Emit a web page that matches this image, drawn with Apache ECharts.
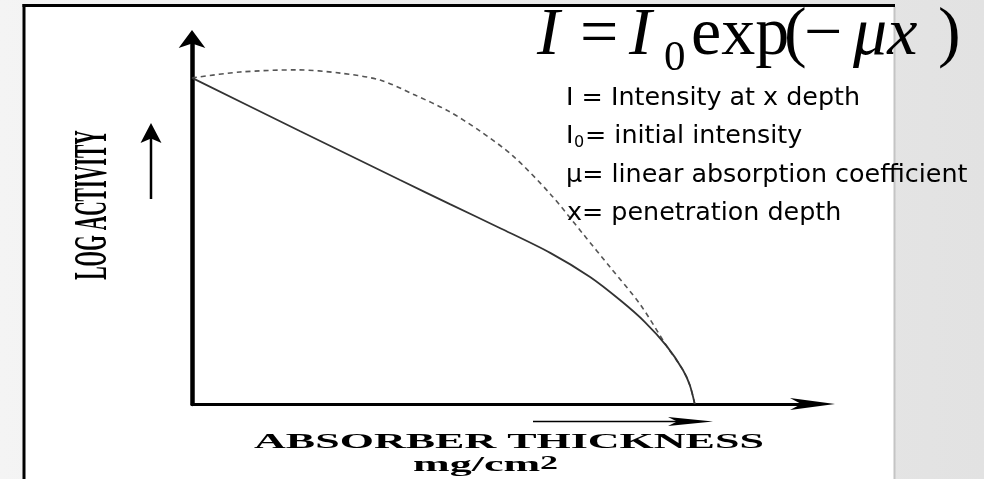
<!DOCTYPE html>
<html><head><meta charset="utf-8">
<script src="https://cdn.jsdelivr.net/npm/echarts@6/dist/echarts.min.js"></script>
<style>html,body{margin:0;padding:0;background:#eeeeee;} #c{width:984px;height:479px;}</style>
</head><body><div id="c"></div>
<script>
// Absorber thickness (arbitrary units, axis 0-100) and log activity (arbitrary units, axis 0-100)
const solidThickness = [0, 17.3, 33.4, 41.4, 49.4, 57.5, 63.9, 68.7, 72.7, 76.2, 78.8, 79.9, 80.7];
const solidActivity  = [89.1, 74.6, 61.2, 54.6, 48.1, 41.3, 34.7, 28.4, 22.4, 15.8, 9.3, 5.2, 0];
const dashedThickness = [0, 7.7, 16.9, 23.8, 30.2, 35.8, 41.1, 46.2, 51.5, 57.5, 62.8, 67.1, 71.9, 76.2, 78.8, 79.9, 80.7];
const dashedActivity  = [89.1, 90.7, 91.3, 90.4, 88.5, 84.4, 80.1, 74.6, 67.8, 57.4, 46.4, 37.4, 27.3, 15.8, 9.3, 5.2, 0];

const xAxisTitle = 'ABSORBER THICKNESS';
const xAxisUnit = 'mg/cm';
const xAxisUnitPower = '2';
const yAxisTitle = 'LOG ACTIVITY';
const legendLine1 = 'I = Intensity at x depth';
const legendLine2Sym = 'I';
const legendLine2Sub = '0';
const legendLine2Rest = '= initial intensity';
const legendLine3 = 'μ= linear absorption coefficient';
const legendLine4 = 'x= penetration depth';

const pairs = (xs, ys) => xs.map((x, i) => [x, ys[i]]);
const serif = '"Liberation Serif", "Times New Roman", serif';
const sans = '"DejaVu Sans", sans-serif';

const chart = echarts.init(document.getElementById('c'), null, {renderer: 'canvas'});

function txt(x, y, text, size, family, opts) {
  opts = opts || {};
  return {
    type: 'text', x: x, y: y,
    rotation: opts.rotation || 0, scaleX: opts.scaleX || 1, scaleY: opts.scaleY || 1,
    silent: true, z: 20,
    style: {
      text: text, fill: '#000', fontSize: size, fontFamily: family,
      fontWeight: opts.weight || 'normal', fontStyle: opts.style || 'normal',
      align: opts.align || 'left', verticalAlign: 'middle'
    }
  };
}

const option = {
  animation: false,
  backgroundColor: {type: 'linear', x: 0, y: 0, x2: 1, y2: 0,
    colorStops: [{offset: 0, color: '#f4f4f4'}, {offset: 1, color: '#e2e2e2'}]},
  grid: {left: 192, top: 38, width: 623, height: 366},
  xAxis: {
    type: 'value', min: 0, max: 100,
    axisLine: {show: true, onZero: false, lineStyle: {color: '#000', width: 3},
      symbol: ['none', 'arrow'], symbolSize: [9, 45], symbolOffset: [0, 20]},
    axisTick: {show: false}, axisLabel: {show: false}, splitLine: {show: false}
  },
  yAxis: {
    type: 'value', min: 0, max: 100,
    axisLine: {show: true, onZero: false, lineStyle: {color: '#000', width: 4.5},
      symbol: ['none', 'arrow'], symbolSize: [20, 18], symbolOffset: [0, 8]},
    axisTick: {show: false}, axisLabel: {show: false}, splitLine: {show: false}
  },
  series: [
    {type: 'line', data: pairs(dashedThickness, dashedActivity), smooth: 0.3, symbol: 'none',
      lineStyle: {color: '#555', width: 1.6, type: [5, 4]}, z: 3},
    {type: 'line', data: pairs(solidThickness, solidActivity), smooth: 0.3, symbol: 'none',
      lineStyle: {color: '#333', width: 1.8}, z: 4}
  ],
  graphic: [
    {type: 'rect', z: -10, silent: true, shape: {x: 25, y: 7, width: 869, height: 480}, style: {fill: '#fff'}},
    {type: 'line', z: -9, silent: true, shape: {x1: 24, y1: 4, x2: 24, y2: 479}, style: {stroke: '#000', lineWidth: 3}},
    {type: 'line', z: -9, silent: true, shape: {x1: 22.5, y1: 5.5, x2: 895, y2: 5.5}, style: {stroke: '#000', lineWidth: 3}},
    {type: 'line', z: -9, silent: true, shape: {x1: 894.5, y1: 7, x2: 894.5, y2: 479}, style: {stroke: '#c4c4c4', lineWidth: 2}},
    // small direction arrows
    {type: 'line', silent: true, shape: {x1: 151, y1: 199, x2: 151, y2: 138}, style: {stroke: '#000', lineWidth: 2.5}},
    {type: 'polygon', silent: true, shape: {points: [[151, 123], [161.5, 143], [151, 138.5], [140.5, 143]]}, style: {fill: '#000'}},
    {type: 'line', silent: true, shape: {x1: 533, y1: 421.5, x2: 678, y2: 421.5}, style: {stroke: '#000', lineWidth: 1.7}},
    {type: 'polygon', silent: true, shape: {points: [[713, 421.5], [668, 417], [677, 421.5], [668, 426]]}, style: {fill: '#000'}},
    // axis titles
    txt(94, 205, yAxisTitle, 20, serif, {weight: 'bold', align: 'center', rotation: Math.PI / 2, scaleY: 2.3}),
    txt(509, 442, xAxisTitle, 22, serif, {weight: 'bold', align: 'center', scaleX: 2}),
    txt(413, 465.5, xAxisUnit, 22, serif, {weight: 'bold', scaleX: 2}),
    txt(540, 464.5, xAxisUnitPower, 18, serif, {weight: 'bold', scaleX: 2}),
    // formula
    txt(537, 36, 'I', 68, serif, {style: 'italic'}),
    txt(580, 36, '=', 68, serif),
    txt(629, 36, 'I', 68, serif, {style: 'italic'}),
    txt(664, 59, '0', 43, serif),
    txt(691, 36, 'exp', 68, serif),
    txt(784, 36, '(', 68, serif),
    txt(804, 36, '−', 68, serif),
    txt(853, 36, 'μx', 68, serif, {style: 'italic'}),
    txt(938, 36, ')', 68, serif),
    // legend
    txt(566, 98, legendLine1, 25.4, sans),
    txt(566, 136, legendLine2Sym, 25.4, sans),
    txt(574, 143, legendLine2Sub, 16, sans),
    txt(585, 136, legendLine2Rest, 25.4, sans),
    txt(566, 175, legendLine3, 25.4, sans),
    txt(567, 213, legendLine4, 25.4, sans)
  ]
};
chart.setOption(option);
</script>
</body></html>
